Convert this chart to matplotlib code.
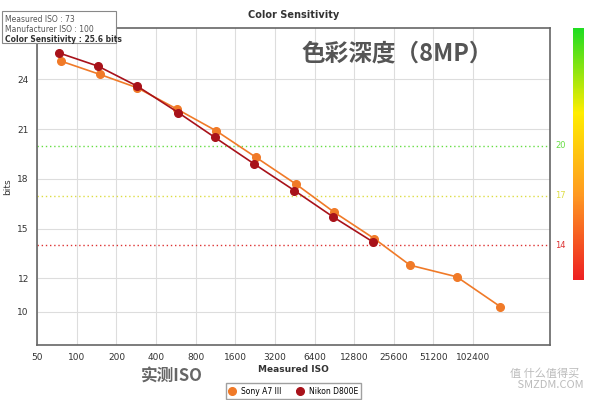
import matplotlib
matplotlib.use("Agg")
import matplotlib.pyplot as plt
from matplotlib import font_manager
from matplotlib.patches import Rectangle
import numpy as np
from matplotlib.colors import LinearSegmentedColormap

sony_iso = [76, 150, 287, 580, 1145, 2300, 4600, 9000, 18200, 34000, 77000, 165000]
sony_bits = [25.1, 24.3, 23.5, 22.2, 20.9, 19.3, 17.7, 16.0, 14.4, 12.8, 12.1, 10.3]
nikon_iso = [73, 145, 287, 590, 1120, 2230, 4500, 8900, 17800]
nikon_bits = [25.6, 24.8, 23.6, 22.0, 20.5, 18.9, 17.3, 15.7, 14.2]
xticks = [50, 100, 200, 400, 800, 1600, 3200, 6400, 12800, 25600, 51200, 102400]
yticks = [10, 12, 15, 18, 21, 24]
refs = [20, 17, 14]
ref_colors = ["#66dd44", "#dddd44", "#dd3333"]

cjk = None
for f in font_manager.fontManager.ttflist:
    if "CJK" in f.name and ("SC" in f.name or cjk is None):
        cjk = f.name
cjk = cjk or "Noto Sans CJK SC"

fig = plt.figure(figsize=(6, 4), dpi=100)
ax = fig.add_axes([0.062, 0.138, 0.855, 0.792])
ax.set_xscale("log", base=2)
ax.set_xlim(50, 395000)
ax.set_ylim(8, 27.1)
ax.set_xticks(xticks)
ax.set_xticklabels([str(t) for t in xticks], fontsize=6.5, color="#333")
ax.set_yticks(yticks)
ax.set_yticklabels([str(t) for t in yticks], fontsize=6.5, color="#333")
ax.minorticks_off()
ax.tick_params(length=0, pad=6)
ax.grid(True, color="#dddddd", lw=0.8)
for s in ax.spines.values():
    s.set_color("#666")
    s.set_linewidth(1.2)
ax.plot(sony_iso, sony_bits, "-o", color="#f07a28", ms=5.5, lw=1.2, label="Sony A7 III", zorder=3)
ax.plot(nikon_iso, nikon_bits, "-o", color="#a8121a", ms=5.5, lw=1.2, label="Nikon D800E", zorder=3)
for r, c in zip(refs, ref_colors):
    ax.axhline(r, color=c, ls=(0, (1, 2)), lw=1)
    ax.text(1.01, r, str(r), transform=ax.get_yaxis_transform(), color=c, fontsize=6, va="center")
ax.set_xlabel("Measured ISO", fontsize=6.5, fontweight="bold", color="#333", labelpad=2)
ax.set_ylabel("bits", fontsize=6.5, color="#333")
ax.set_title("Color Sensitivity", fontsize=7, fontweight="bold", color="#333", pad=7)
ax.text(0.515, 0.92, "色彩深度（8MP）", transform=ax.transAxes, fontsize=17, fontweight="bold",
        color="#555", ha="left", va="center", family=cjk)
fig.text(0.235, 0.045, "实测ISO", fontsize=12, fontweight="bold", color="#666", family=cjk)
fig.text(0.85, 0.03, "值 什么值得买\n   SMZDM.COM", fontsize=8, color="#bbb", family=cjk)
leg = ax.legend(loc="upper center", bbox_to_anchor=(0.5, -0.11), ncol=2, fontsize=5.5,
                frameon=True, fancybox=False, edgecolor="#888", handlelength=0.8, columnspacing=2)
fig.patches.append(Rectangle((0.003, 0.892), 0.19, 0.08, transform=fig.transFigure,
                             fc="white", ec="#888", lw=0.8, zorder=5))
fig.text(0.008, 0.962, "Measured ISO : 73", fontsize=5.5, color="#555", va="top", zorder=6)
fig.text(0.008, 0.937, "Manufacturer ISO : 100", fontsize=5.5, color="#555", va="top", zorder=6)
fig.text(0.008, 0.912, "Color Sensitivity : 25.6 bits", fontsize=5.5, fontweight="bold", color="#333",
         va="top", zorder=6)
cmap = LinearSegmentedColormap.from_list("g", ["#ee2222", "#ff9922", "#ffee00", "#22dd22"])
cax = fig.add_axes([0.955, 0.3, 0.017, 0.63])
cax.imshow(np.linspace(0, 1, 100)[:, None], aspect="auto", cmap=cmap, origin="lower")
cax.axis("off")
fig.savefig("out.png")
